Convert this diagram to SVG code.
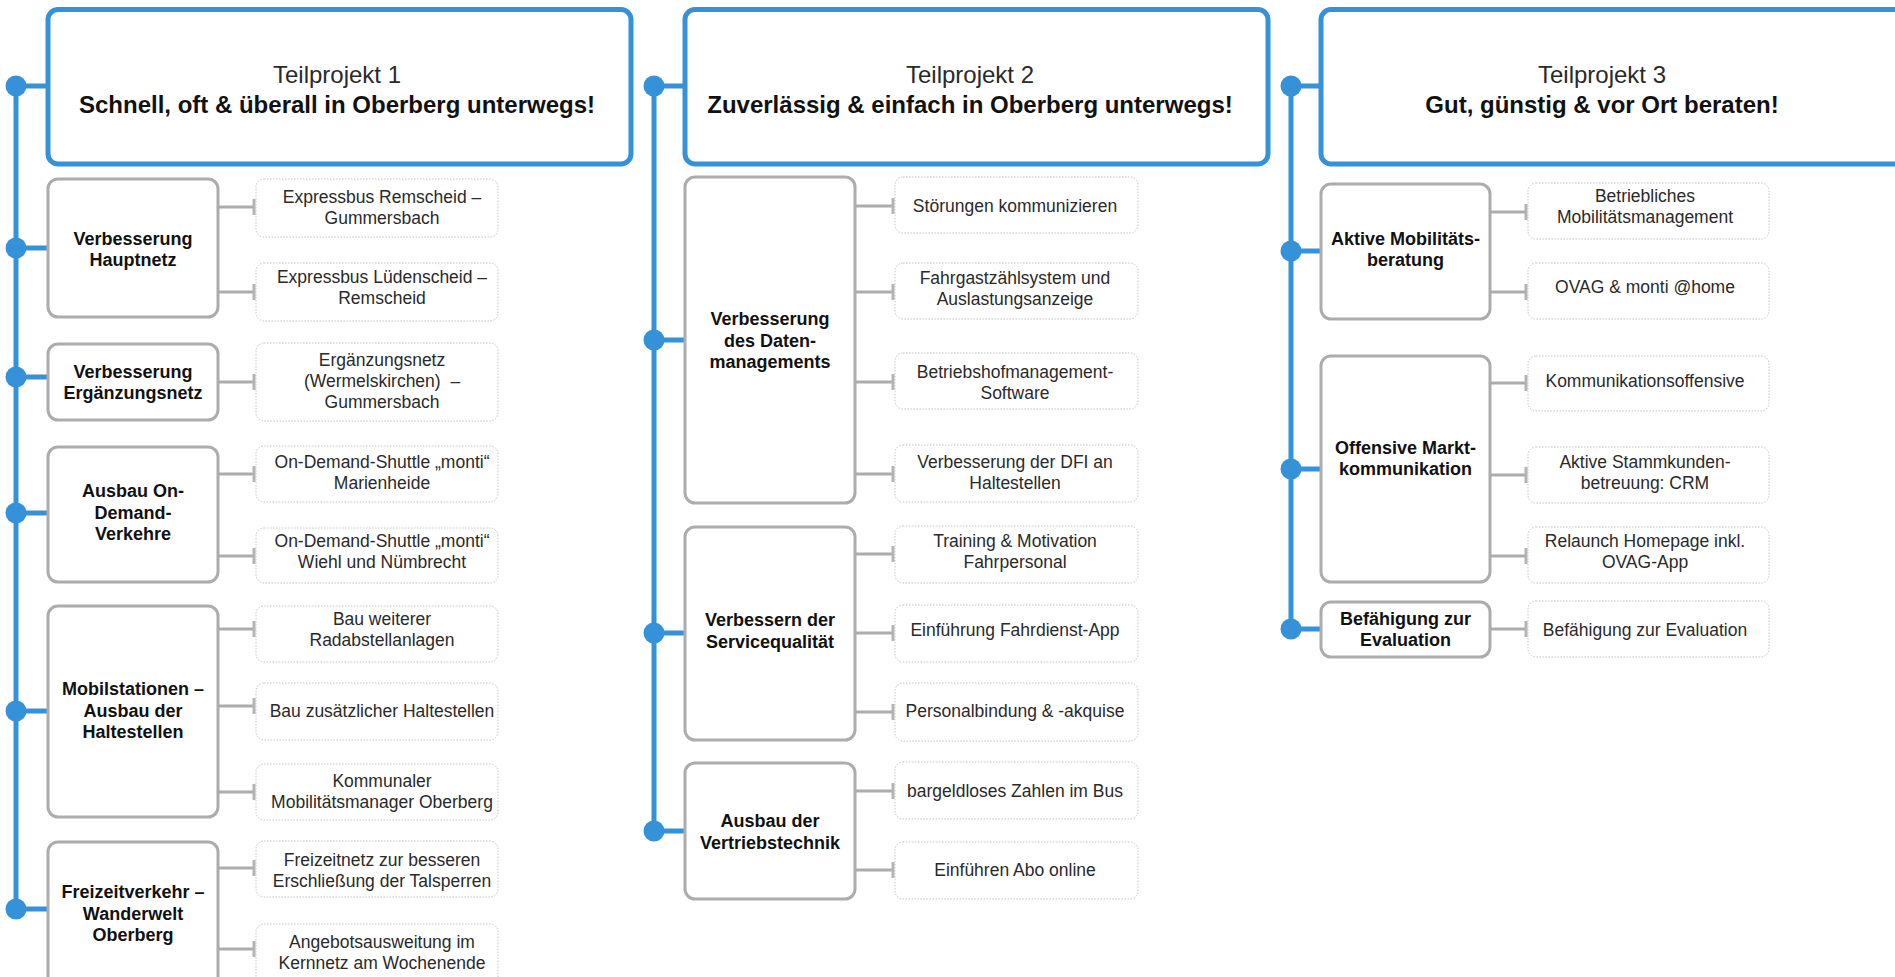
<svg xmlns="http://www.w3.org/2000/svg" width="1895" height="977" viewBox="0 0 1895 977">
<style>
.hdr{fill:#fff;stroke:#3591d8;stroke-width:5}
.l2{fill:#fff;stroke:#acacac;stroke-width:3}
.leaf{fill:#fff;stroke:#c4c4c4;stroke-width:1;stroke-dasharray:1.5 1.5}
.spine{stroke:#3591d8;stroke-width:5;fill:none}
.dot{fill:#3591d8}
.conn{stroke:#acacac;stroke-width:3;fill:none}
.tick{stroke:#b4b4b4;stroke-width:3}
text{font-family:"Liberation Sans",Arial,sans-serif;text-anchor:middle}
.tp{font-size:24px;fill:#2a2a2a}
.tb{font-size:24px;font-weight:bold;fill:#111}
.lb{font-size:18px;font-weight:bold;fill:#111}
.lf{font-size:17.5px;fill:#2a2a2a}
</style>
<rect width="1895" height="977" fill="#fff"/>

<g id="connectors">
  <line class="spine" x1="16" y1="86" x2="16" y2="909"/>
  <line class="spine" x1="654" y1="86" x2="654" y2="831"/>
  <line class="spine" x1="1291" y1="86" x2="1291" y2="629"/>
  <g class="spine">
    <line x1="16" y1="86" x2="48" y2="86"/>
    <line x1="16" y1="248" x2="48" y2="248"/>
    <line x1="16" y1="377" x2="48" y2="377"/>
    <line x1="16" y1="513" x2="48" y2="513"/>
    <line x1="16" y1="711" x2="48" y2="711"/>
    <line x1="16" y1="909" x2="48" y2="909"/>
    <line x1="654" y1="86" x2="685" y2="86"/>
    <line x1="654" y1="340" x2="685" y2="340"/>
    <line x1="654" y1="633" x2="685" y2="633"/>
    <line x1="654" y1="831" x2="685" y2="831"/>
    <line x1="1291" y1="86" x2="1321" y2="86"/>
    <line x1="1291" y1="251" x2="1321" y2="251"/>
    <line x1="1291" y1="469" x2="1321" y2="469"/>
    <line x1="1291" y1="629" x2="1321" y2="629"/>
  </g>
  <g class="dot">
    <circle cx="16" cy="86" r="10.5"/>
    <circle cx="16" cy="248" r="10.5"/>
    <circle cx="16" cy="377" r="10.5"/>
    <circle cx="16" cy="513" r="10.5"/>
    <circle cx="16" cy="711" r="10.5"/>
    <circle cx="16" cy="909" r="10.5"/>
    <circle cx="654" cy="86" r="10.5"/>
    <circle cx="654" cy="340" r="10.5"/>
    <circle cx="654" cy="633" r="10.5"/>
    <circle cx="654" cy="831" r="10.5"/>
    <circle cx="1291" cy="86" r="10.5"/>
    <circle cx="1291" cy="251" r="10.5"/>
    <circle cx="1291" cy="469" r="10.5"/>
    <circle cx="1291" cy="629" r="10.5"/>
  </g>
  <g class="conn">
    <line x1="218" y1="207" x2="254" y2="207"/>
    <line x1="218" y1="292" x2="254" y2="292"/>
    <line x1="218" y1="382" x2="254" y2="382"/>
    <line x1="218" y1="474" x2="254" y2="474"/>
    <line x1="218" y1="556" x2="254" y2="556"/>
    <line x1="218" y1="629" x2="254" y2="629"/>
    <line x1="218" y1="706" x2="254" y2="706"/>
    <line x1="218" y1="792" x2="254" y2="792"/>
    <line x1="218" y1="868" x2="254" y2="868"/>
    <line x1="218" y1="949" x2="254" y2="949"/>
    <line x1="855" y1="206" x2="893" y2="206"/>
    <line x1="855" y1="292" x2="893" y2="292"/>
    <line x1="855" y1="382" x2="893" y2="382"/>
    <line x1="855" y1="474" x2="893" y2="474"/>
    <line x1="855" y1="554" x2="893" y2="554"/>
    <line x1="855" y1="633" x2="893" y2="633"/>
    <line x1="855" y1="712" x2="893" y2="712"/>
    <line x1="855" y1="791" x2="893" y2="791"/>
    <line x1="855" y1="870" x2="893" y2="870"/>
    <line x1="1490" y1="212" x2="1526" y2="212"/>
    <line x1="1490" y1="292" x2="1526" y2="292"/>
    <line x1="1490" y1="383" x2="1526" y2="383"/>
    <line x1="1490" y1="475" x2="1526" y2="475"/>
    <line x1="1490" y1="556" x2="1526" y2="556"/>
    <line x1="1490" y1="629" x2="1526" y2="629"/>
  </g>
  <g class="tick">
    <line x1="254" y1="199" x2="254" y2="215"/>
    <line x1="254" y1="284" x2="254" y2="300"/>
    <line x1="254" y1="374" x2="254" y2="390"/>
    <line x1="254" y1="466" x2="254" y2="482"/>
    <line x1="254" y1="548" x2="254" y2="564"/>
    <line x1="254" y1="621" x2="254" y2="637"/>
    <line x1="254" y1="698" x2="254" y2="714"/>
    <line x1="254" y1="784" x2="254" y2="800"/>
    <line x1="254" y1="860" x2="254" y2="876"/>
    <line x1="254" y1="941" x2="254" y2="957"/>
    <line x1="893" y1="198" x2="893" y2="214"/>
    <line x1="893" y1="284" x2="893" y2="300"/>
    <line x1="893" y1="374" x2="893" y2="390"/>
    <line x1="893" y1="466" x2="893" y2="482"/>
    <line x1="893" y1="546" x2="893" y2="562"/>
    <line x1="893" y1="625" x2="893" y2="641"/>
    <line x1="893" y1="704" x2="893" y2="720"/>
    <line x1="893" y1="783" x2="893" y2="799"/>
    <line x1="893" y1="862" x2="893" y2="878"/>
    <line x1="1526" y1="204" x2="1526" y2="220"/>
    <line x1="1526" y1="284" x2="1526" y2="300"/>
    <line x1="1526" y1="375" x2="1526" y2="391"/>
    <line x1="1526" y1="467" x2="1526" y2="483"/>
    <line x1="1526" y1="548" x2="1526" y2="564"/>
    <line x1="1526" y1="621" x2="1526" y2="637"/>
  </g>
</g>

<g id="tp1">
  <rect class="hdr" x="48" y="9.5" width="583" height="154.5" rx="10"/>
  <text class="tp" x="337" y="83">Teilprojekt 1</text>
  <text class="tb" x="337" y="113">Schnell, oft &amp; überall in Oberberg unterwegs!</text>
</g>
<g id="tp1-hauptnetz">
  <rect class="l2" x="48" y="179" width="170" height="138" rx="10"/>
  <text class="lb" x="133" y="244.5">Verbesserung</text>
  <text class="lb" x="133" y="266">Hauptnetz</text>
</g>
<g id="tp1-ergaenzungsnetz">
  <rect class="l2" x="48" y="344" width="170" height="76" rx="10"/>
  <text class="lb" x="133" y="377.5">Verbesserung</text>
  <text class="lb" x="133" y="399">Ergänzungsnetz</text>
</g>
<g id="tp1-ondemand">
  <rect class="l2" x="48" y="447" width="170" height="135" rx="10"/>
  <text class="lb" x="133" y="497">Ausbau On-</text>
  <text class="lb" x="133" y="518.5">Demand-</text>
  <text class="lb" x="133" y="540">Verkehre</text>
</g>
<g id="tp1-mobilstationen">
  <rect class="l2" x="48" y="606" width="170" height="211" rx="10"/>
  <text class="lb" x="133" y="695">Mobilstationen –</text>
  <text class="lb" x="133" y="716.5">Ausbau der</text>
  <text class="lb" x="133" y="738">Haltestellen</text>
</g>
<g id="tp1-freizeit">
  <rect class="l2" x="48" y="842" width="170" height="150" rx="10"/>
  <text class="lb" x="133" y="898">Freizeitverkehr –</text>
  <text class="lb" x="133" y="919.5">Wanderwelt</text>
  <text class="lb" x="133" y="941">Oberberg</text>
</g>
<g id="l1-1"><rect class="leaf" x="256" y="179" width="242" height="58" rx="8"/>
  <text class="lf" x="382" y="202.5">Expressbus Remscheid –</text><text class="lf" x="382" y="223.5">Gummersbach</text></g>
<g id="l1-2"><rect class="leaf" x="256" y="263" width="242" height="58" rx="8"/>
  <text class="lf" x="382" y="283">Expressbus Lüdenscheid –</text><text class="lf" x="382" y="304">Remscheid</text></g>
<g id="l1-3"><rect class="leaf" x="256" y="343" width="242" height="78" rx="8"/>
  <text class="lf" x="382" y="366">Ergänzungsnetz</text><text class="lf" x="382" y="387" xml:space="preserve">(Wermelskirchen)  –</text><text class="lf" x="382" y="408">Gummersbach</text></g>
<g id="l1-4"><rect class="leaf" x="256" y="446" width="242" height="56" rx="8"/>
  <text class="lf" x="382" y="467.5">On-Demand-Shuttle „monti“</text><text class="lf" x="382" y="488.5">Marienheide</text></g>
<g id="l1-5"><rect class="leaf" x="256" y="528" width="242" height="55" rx="8"/>
  <text class="lf" x="382" y="546.5">On-Demand-Shuttle „monti“</text><text class="lf" x="382" y="567.5">Wiehl und Nümbrecht</text></g>
<g id="l1-6"><rect class="leaf" x="256" y="606" width="242" height="56" rx="8"/>
  <text class="lf" x="382" y="625">Bau weiterer</text><text class="lf" x="382" y="646">Radabstellanlagen</text></g>
<g id="l1-7"><rect class="leaf" x="256" y="683" width="242" height="57" rx="8"/>
  <text class="lf" x="382" y="717">Bau zusätzlicher Haltestellen</text></g>
<g id="l1-8"><rect class="leaf" x="256" y="764" width="242" height="56" rx="8"/>
  <text class="lf" x="382" y="787">Kommunaler</text><text class="lf" x="382" y="808">Mobilitätsmanager Oberberg</text></g>
<g id="l1-9"><rect class="leaf" x="256" y="841" width="242" height="56" rx="8"/>
  <text class="lf" x="382" y="866">Freizeitnetz zur besseren</text><text class="lf" x="382" y="887">Erschließung der Talsperren</text></g>
<g id="l1-10"><rect class="leaf" x="256" y="924" width="242" height="62" rx="8"/>
  <text class="lf" x="382" y="948">Angebotsausweitung im</text><text class="lf" x="382" y="969">Kernnetz am Wochenende</text></g>

<g id="tp2">
  <rect class="hdr" x="685" y="9.5" width="583" height="154.5" rx="10"/>
  <text class="tp" x="970" y="83">Teilprojekt 2</text>
  <text class="tb" x="970" y="113">Zuverlässig &amp; einfach in Oberberg unterwegs!</text>
</g>
<g id="tp2-daten">
  <rect class="l2" x="685" y="177" width="170" height="326" rx="10"/>
  <text class="lb" x="770" y="325">Verbesserung</text>
  <text class="lb" x="770" y="346.5">des Daten-</text>
  <text class="lb" x="770" y="368">managements</text>
</g>
<g id="tp2-service">
  <rect class="l2" x="685" y="527" width="170" height="213" rx="10"/>
  <text class="lb" x="770" y="626">Verbessern der</text>
  <text class="lb" x="770" y="647.5">Servicequalität</text>
</g>
<g id="tp2-vertrieb">
  <rect class="l2" x="685" y="763" width="170" height="136" rx="10"/>
  <text class="lb" x="770" y="827">Ausbau der</text>
  <text class="lb" x="770" y="848.5">Vertriebstechnik</text>
</g>
<g id="l2-1"><rect class="leaf" x="895" y="177" width="243" height="56" rx="8"/>
  <text class="lf" x="1015" y="212">Störungen kommunizieren</text></g>
<g id="l2-2"><rect class="leaf" x="895" y="263" width="243" height="56" rx="8"/>
  <text class="lf" x="1015" y="283.5">Fahrgastzählsystem und</text><text class="lf" x="1015" y="304.5">Auslastungsanzeige</text></g>
<g id="l2-3"><rect class="leaf" x="895" y="353" width="243" height="56" rx="8"/>
  <text class="lf" x="1015" y="377.5">Betriebshofmanagement-</text><text class="lf" x="1015" y="398.5">Software</text></g>
<g id="l2-4"><rect class="leaf" x="895" y="445" width="243" height="57" rx="8"/>
  <text class="lf" x="1015" y="467.5">Verbesserung der DFI an</text><text class="lf" x="1015" y="488.5">Haltestellen</text></g>
<g id="l2-5"><rect class="leaf" x="895" y="526" width="243" height="57" rx="8"/>
  <text class="lf" x="1015" y="546.5">Training &amp; Motivation</text><text class="lf" x="1015" y="567.5">Fahrpersonal</text></g>
<g id="l2-6"><rect class="leaf" x="895" y="605" width="243" height="57" rx="8"/>
  <text class="lf" x="1015" y="636">Einführung Fahrdienst-App</text></g>
<g id="l2-7"><rect class="leaf" x="895" y="683" width="243" height="58" rx="8"/>
  <text class="lf" x="1015" y="717">Personalbindung &amp; -akquise</text></g>
<g id="l2-8"><rect class="leaf" x="895" y="762" width="243" height="57" rx="8"/>
  <text class="lf" x="1015" y="797">bargeldloses Zahlen im Bus</text></g>
<g id="l2-9"><rect class="leaf" x="895" y="842" width="243" height="57" rx="8"/>
  <text class="lf" x="1015" y="876">Einführen Abo online</text></g>

<g id="tp3">
  <rect class="hdr" x="1321" y="9.5" width="600" height="154.5" rx="10"/>
  <text class="tp" x="1602" y="83">Teilprojekt 3</text>
  <text class="tb" x="1602" y="113">Gut, günstig &amp; vor Ort beraten!</text>
</g>
<g id="tp3-aktive">
  <rect class="l2" x="1321" y="184" width="169" height="135" rx="10"/>
  <text class="lb" x="1405.5" y="244.5">Aktive Mobilitäts-</text>
  <text class="lb" x="1405.5" y="266">beratung</text>
</g>
<g id="tp3-offensive">
  <rect class="l2" x="1321" y="356" width="169" height="226" rx="10"/>
  <text class="lb" x="1405.5" y="453.5">Offensive Markt-</text>
  <text class="lb" x="1405.5" y="475">kommunikation</text>
</g>
<g id="tp3-befaehigung">
  <rect class="l2" x="1321" y="602" width="169" height="55" rx="10"/>
  <text class="lb" x="1405.5" y="624.5">Befähigung zur</text>
  <text class="lb" x="1405.5" y="646">Evaluation</text>
</g>
<g id="l3-1"><rect class="leaf" x="1528" y="183" width="241" height="56" rx="8"/>
  <text class="lf" x="1645" y="202">Betriebliches</text><text class="lf" x="1645" y="223">Mobilitätsmanagement</text></g>
<g id="l3-2"><rect class="leaf" x="1528" y="263" width="241" height="56" rx="8"/>
  <text class="lf" x="1645" y="293">OVAG &amp; monti @home</text></g>
<g id="l3-3"><rect class="leaf" x="1528" y="356" width="241" height="55" rx="8"/>
  <text class="lf" x="1645" y="387">Kommunikationsoffensive</text></g>
<g id="l3-4"><rect class="leaf" x="1528" y="447" width="241" height="56" rx="8"/>
  <text class="lf" x="1645" y="467.5">Aktive Stammkunden-</text><text class="lf" x="1645" y="488.5">betreuung: CRM</text></g>
<g id="l3-5"><rect class="leaf" x="1528" y="527" width="241" height="56" rx="8"/>
  <text class="lf" x="1645" y="546.5">Relaunch Homepage inkl.</text><text class="lf" x="1645" y="567.5">OVAG-App</text></g>
<g id="l3-6"><rect class="leaf" x="1528" y="601" width="241" height="56" rx="8"/>
  <text class="lf" x="1645" y="636">Befähigung zur Evaluation</text></g>
</svg>
